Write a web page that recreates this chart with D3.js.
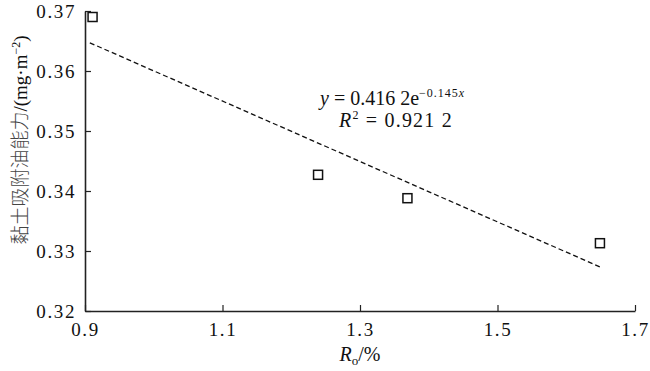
<!DOCTYPE html>
<html>
<head>
<meta charset="utf-8">
<script src="https://cdn.jsdelivr.net/npm/d3@7"></script>
<style>
  body { margin: 0; background: #fff; }
</style>
</head>
<body>
<div id="chart"></div>
<script>
// clay oil adsorption vs Ro, with exponential fit line
var roValues = [0.911, 1.239, 1.369, 1.649];
var adsorption = [0.369, 0.3427, 0.3388, 0.3313];
var trendX = [0.907, 1.652];
var trendY = [0.3647, 0.3272];
var xTicks = [0.9, 1.1, 1.3, 1.5, 1.7];
var yTicks = [0.32, 0.33, 0.34, 0.35, 0.36, 0.37];

var serif = "'Liberation Serif'";

var W = 650, H = 371;
var margin = { top: 11, left: 85, right: 15, bottom: 60 },
	width = W - margin.left - margin.right,
	height = H - margin.top - margin.bottom;

var svg = d3.select("#chart")
	.append("svg")
	.attr("width", W)
	.attr("height", H)
	.append("g")
	.attr("transform", "translate(" + margin.left + "," + margin.top + ")");

var x = d3.scaleLinear().domain([0.9, 1.7]).range([0, width]);
var y = d3.scaleLinear().domain([0.32, 0.37]).range([height, 0]);

var xAxis = d3.axisBottom(x)
	.tickValues(xTicks)
	.tickSizeInner(-6)
	.tickSizeOuter(0)
	.tickPadding(12)
	.tickFormat(d3.format(".1f"));

var yAxis = d3.axisLeft(y)
	.tickValues(yTicks)
	.tickSizeInner(-6)
	.tickSizeOuter(0)
	.tickPadding(9)
	.tickFormat(d3.format(".2f"));

var gx = svg.append("g")
	.attr("transform", "translate(0," + height + ")")
	.call(xAxis);

var gy = svg.append("g")
	.call(yAxis);

[gx, gy].forEach(function(g) {
	g.style("font-family", serif);
	g.select(".domain").attr("stroke", "#222").attr("stroke-width", 1.6);
	g.selectAll(".tick line").attr("stroke", "#222").attr("stroke-width", 1.2);
	g.selectAll(".tick text")
		.style("font-family", serif)
		.style("font-size", "19px")
		.style("letter-spacing", "1.6px")
		.attr("fill", "#111");
});
gx.selectAll(".tick text").attr("dy", "0.71em");

// trend line
var line = d3.line()
	.x(function(d) { return x(d[0]); })
	.y(function(d) { return y(d[1]); });

svg.append("path")
	.datum(d3.zip(trendX, trendY))
	.attr("d", line)
	.attr("fill", "none")
	.attr("stroke", "#111")
	.attr("stroke-width", 1.3)
	.attr("stroke-dasharray", "5,3");

// data points, open squares
var sq = 9;
svg.selectAll("rect.pt")
	.data(d3.zip(roValues, adsorption))
	.enter()
	.append("rect")
	.attr("class", "pt")
	.attr("x", function(d) { return x(d[0]) - sq / 2; })
	.attr("y", function(d) { return y(d[1]) - sq / 2; })
	.attr("width", sq)
	.attr("height", sq)
	.attr("fill", "#fff")
	.attr("stroke", "#111")
	.attr("stroke-width", 1.5);

// fit equation
var eq = svg.append("text")
	.attr("x", 320 - margin.left)
	.attr("y", 105 - margin.top)
	.style("font-family", serif)
	.attr("fill", "#111")
	.style("font-size", "20px");
eq.append("tspan").style("font-style", "italic").text("y");
eq.append("tspan").text(" = 0.416 2e");
eq.append("tspan").attr("dy", -8).style("font-size", "12px").style("letter-spacing", "1px").text("\u22120.145");
eq.append("tspan").style("font-size", "12px").style("font-style", "italic").text("x");

var r2 = svg.append("text")
	.attr("x", 339 - margin.left)
	.attr("y", 127 - margin.top)
	.style("font-family", serif)
	.style("letter-spacing", "1.2px")
	.attr("fill", "#111")
	.style("font-size", "20px");
r2.append("tspan").style("font-style", "italic").text("R");
r2.append("tspan").attr("dy", -8).style("font-size", "12px").text("2");
r2.append("tspan").attr("dy", 8).text(" = 0.921 2");

// x axis title
var xt = svg.append("text")
	.attr("x", 360 - margin.left)
	.attr("y", 361 - margin.top)
	.attr("text-anchor", "middle")
	.style("font-family", serif)
	.attr("fill", "#111")
	.style("font-size", "20px");
xt.append("tspan").style("font-style", "italic").text("R");
xt.append("tspan").attr("dy", 4).style("font-size", "13px").text("o");
xt.append("tspan").attr("dy", -4).text("/%");

// y axis title
var yt = svg.append("text")
	.attr("transform", "translate(" + (27 - margin.left) + "," + (140 - margin.top) + ") rotate(-90)")
	.attr("text-anchor", "middle")
	.style("font-family", serif)
	.attr("fill", "#111")
	.style("font-size", "19px");
yt.append("tspan").style("font-family", "'Noto Sans CJK SC'").style("font-weight", "300").attr("fill", "#444").text("黏土吸附油能力");
yt.append("tspan").text("/(mg·m");
yt.append("tspan").attr("dy", -7).style("font-size", "12px").text("\u22122");
yt.append("tspan").attr("dy", 7).text(")");
</script>
</body>
</html>
